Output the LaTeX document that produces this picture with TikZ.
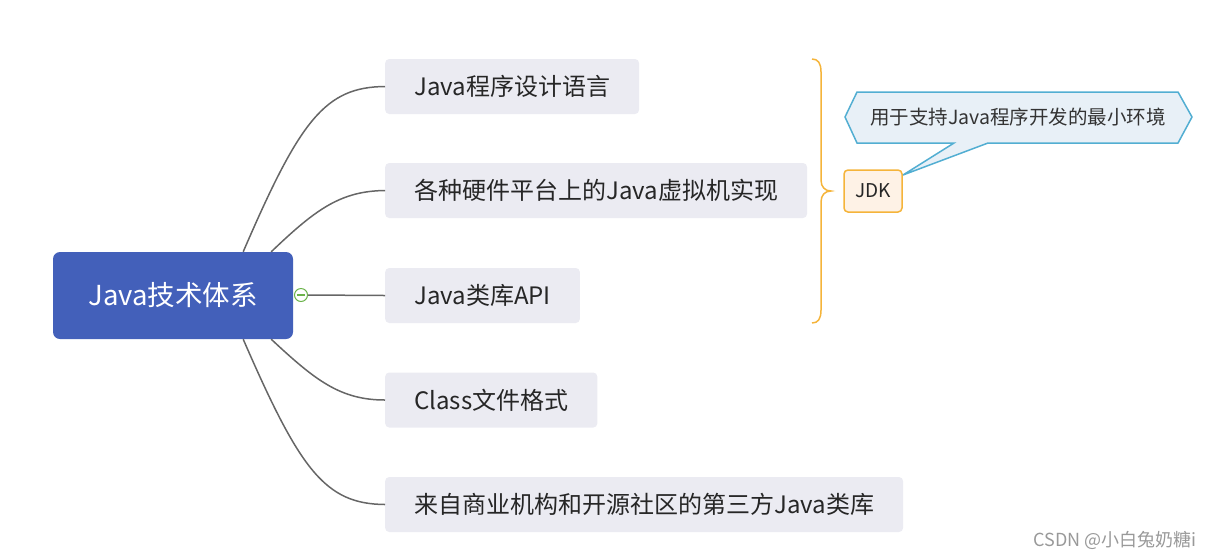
\documentclass[tikz,border=0pt]{standalone}
\usepackage{fontspec}
\newfontfamily\cjk{Noto Sans CJK SC}
\usetikzlibrary{positioning}
\definecolor{rootblue}{HTML}{4360BA}
\definecolor{topicgray}{HTML}{EBEBF2}
\definecolor{linkgray}{HTML}{666666}
\definecolor{braceorange}{HTML}{F5B43A}
\definecolor{jdkfill}{HTML}{FEF2E6}
\definecolor{notefill}{HTML}{E8F0F7}
\definecolor{noteblue}{HTML}{52AED2}
\definecolor{foldgreen}{HTML}{6BB34A}

\begin{document}
\begin{tikzpicture}[x=1pt, y=-1pt,
        root/.style={rectangle, rounded corners=7pt, fill=rootblue, text=white, minimum width=240pt, minimum height=87pt, font=\cjk\fontsize{27.5}{27.5}\selectfont},
        topic/.style={rectangle, rounded corners=4pt, fill=topicgray, text=black!85, anchor=west, inner xsep=29pt, minimum height=55pt, font=\cjk\fontsize{24}{24}\selectfont},
        link/.style={linkgray, line width=1.5pt},
        note/.style={text=black!80, font=\cjk\fontsize{19.5}{19.5}\selectfont}
    ]
    \useasboundingbox (0,0) rectangle (1214,558);

    % central topic
    \node[root] (root) at (173,295.5) {Java技术体系};

    % sub topics
    \node[topic] (lang) at (385,86.5) {Java程序设计语言};
    \node[topic] (jvm) at (385,190.5) {各种硬件平台上的Java虚拟机实现};
    \node[topic] (api) at (385,295.5) {Java类库API};
    \node[topic] (cls) at (385,400) {Class文件格式};
    \node[topic] (lib) at (385,504.5) {来自商业机构和开源社区的第三方Java类库};

    % branches
    \draw[link] ([xshift=-50pt]root.north east) .. controls (300,120) and (325,87) .. (lang.west);
    \draw[link] ([xshift=-22pt]root.north east) .. controls (315,210) and (340,191) .. (jvm.west);
    \draw[link] ([xshift=-22pt]root.south east) .. controls (315,380) and (340,400) .. (cls.west);
    \draw[link] ([xshift=-50pt]root.south east) .. controls (300,470) and (325,504) .. (lib.west);

    \node[circle, draw=foldgreen, fill=white, line width=1pt, minimum size=13pt, inner sep=0pt] (fold) at (301,295) {};
    \draw[foldgreen, line width=1.2pt] ([xshift=-4pt]fold.center) -- ([xshift=4pt]fold.center);
    \draw[link] (fold.east) -- (api.west);

    % summary brace
    \draw[braceorange, line width=1.5pt]
        (812,59) .. controls (818,59) and (821,63) .. (821,72) -- (821,180)
        .. controls (821,187) and (825,191) .. (831,191)
        .. controls (825,191) and (821,195) .. (821,202) -- (821,310)
        .. controls (821,319) and (818,323) .. (812,323);
    \node[rectangle, rounded corners=4pt, draw=braceorange, fill=jdkfill, line width=1.5pt, minimum width=58pt, minimum height=42pt, font=\cjk\fontsize{19}{19}\selectfont, text=black!85] (jdk) at (873,191) {JDK};

    % callout
    \coordinate (tip) at (903,175);
    \draw[noteblue, fill=notefill, line width=1.5pt]
        (845,117) -- (857,92) -- (1178,92) -- (1192,117) -- (1178,143)
        -- (988,143) -- (tip) -- (954,143) -- (857,143) -- cycle;
    \node[note] (jdknote) at (1018,117) {用于支持Java程序开发的最小环境};

    % watermark
    \node[anchor=east, text=black!40, font=\cjk\fontsize{18}{18}\selectfont] (mark) at (1200,540) {CSDN @小白兔奶糖i};
\end{tikzpicture}
\end{document}
